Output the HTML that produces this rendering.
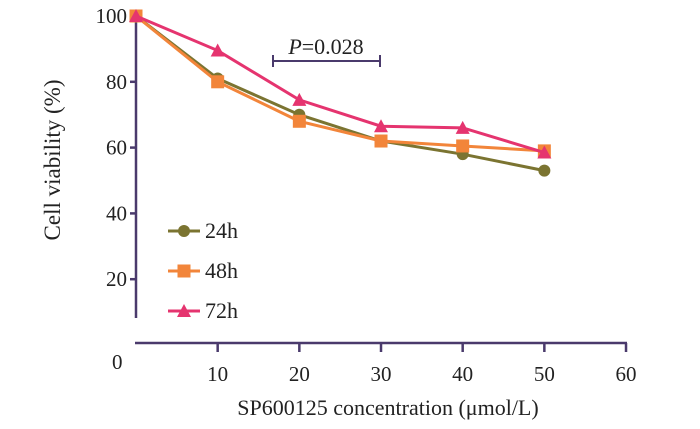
<!DOCTYPE html>
<html><head><meta charset="utf-8"><style>
body{margin:0;background:#fff}
svg text{font-family:"Liberation Serif",serif;fill:#222}
</style></head><body>
<svg id="c" width="700" height="424"></svg>
<script>
const categories=[0,10,20,30,40,50];
const s24=[100,81,70,62,58,53];
const s48=[100,80,68,62,60.5,59];
const s72=[100,89.5,74.5,66.5,66,58.5];
const xTicks=[10,20,30,40,50,60];
const yTicks=[20,40,60,80,100];
const svg=document.getElementById('c');
const NS='http://www.w3.org/2000/svg';
const X=v=>136+v*8.167;
const Y=v=>345-v*3.29;
function el(t,a,p){const e=document.createElementNS(NS,t);for(const k in a)e.setAttribute(k,a[k]);(p||svg).appendChild(e);return e;}
const ax='#4a3a6c';
let a=el('line',{x1:136,y1:14,x2:136,y2:318,stroke:ax,'stroke-width':2.5});


a=el('line',{x1:135,y1:343,x2:627,y2:343,stroke:ax,'stroke-width':2.5});


xTicks.forEach(v=>{
 el('line',{x1:X(v),y1:343,x2:X(v),y2:352,stroke:ax,'stroke-width':2.5});
 const t=el('text',{x:X(v),y:381,'text-anchor':'middle','font-size':21});t.textContent=v;
 
 
});
yTicks.forEach(v=>{
 el('line',{x1:130,y1:Y(v),x2:136,y2:Y(v),stroke:ax,'stroke-width':2.5});
 const t=el('text',{x:127,y:Y(v)+7,'text-anchor':'end','font-size':21});t.textContent=v;
 
 
});
let t=el('text',{x:112,y:369,'font-size':21});t.textContent='0';


t=el('text',{x:388,y:415,'text-anchor':'middle','font-size':22});t.textContent='SP600125 concentration (μmol/L)';


t=el('text',{x:0,y:0,'text-anchor':'middle','font-size':23,transform:'translate(60,160) rotate(-90)'});t.textContent='Cell viability (%)';


const g=el('g',{stroke:ax,'stroke-width':2});


el('line',{x1:273,y1:61,x2:380,y2:61},g);el('line',{x1:273,y1:55,x2:273,y2:67},g);el('line',{x1:380,y1:55,x2:380,y2:67},g);
t=el('text',{x:326,y:54,'text-anchor':'middle','font-size':22});t.innerHTML='<tspan font-style="italic">P</tspan>=0.028';


function marker(shape,x,y,c,p){
 if(shape==='c')return el('circle',{cx:x,cy:y,r:6,fill:c},p);
 if(shape==='s')return el('rect',{x:x-6.5,y:y-6.5,width:13,height:13,fill:c},p);
 return el('polygon',{points:`${x},${y-7} ${x+7},${y+6} ${x-7},${y+6}`,fill:c},p);
}
const series=[['24h',s24,'#7b7431','c'],['48h',s48,'#f2853a','s'],['72h',s72,'#e5346f','t']];
series.forEach(([name,d,c,sh],i)=>{
 const gg=el('g',{});
 
 
 el('polyline',{points:d.map((v,j)=>X(categories[j])+','+Y(v)).join(' '),fill:'none',stroke:c,'stroke-width':3},gg);
 d.forEach((v,j)=>{const m=marker(sh,X(categories[j]),Y(v),c,gg);
  
  });
 const ly=231+i*40;
 const lg=el('g',{});
 
 
 el('line',{x1:168,y1:ly,x2:200,y2:ly,stroke:c,'stroke-width':3},lg);
 marker(sh,184,ly,c,lg);
 const lt=el('text',{x:205,y:ly+7,'font-size':22},lg);lt.textContent=name;
});
</script>
</body></html>
